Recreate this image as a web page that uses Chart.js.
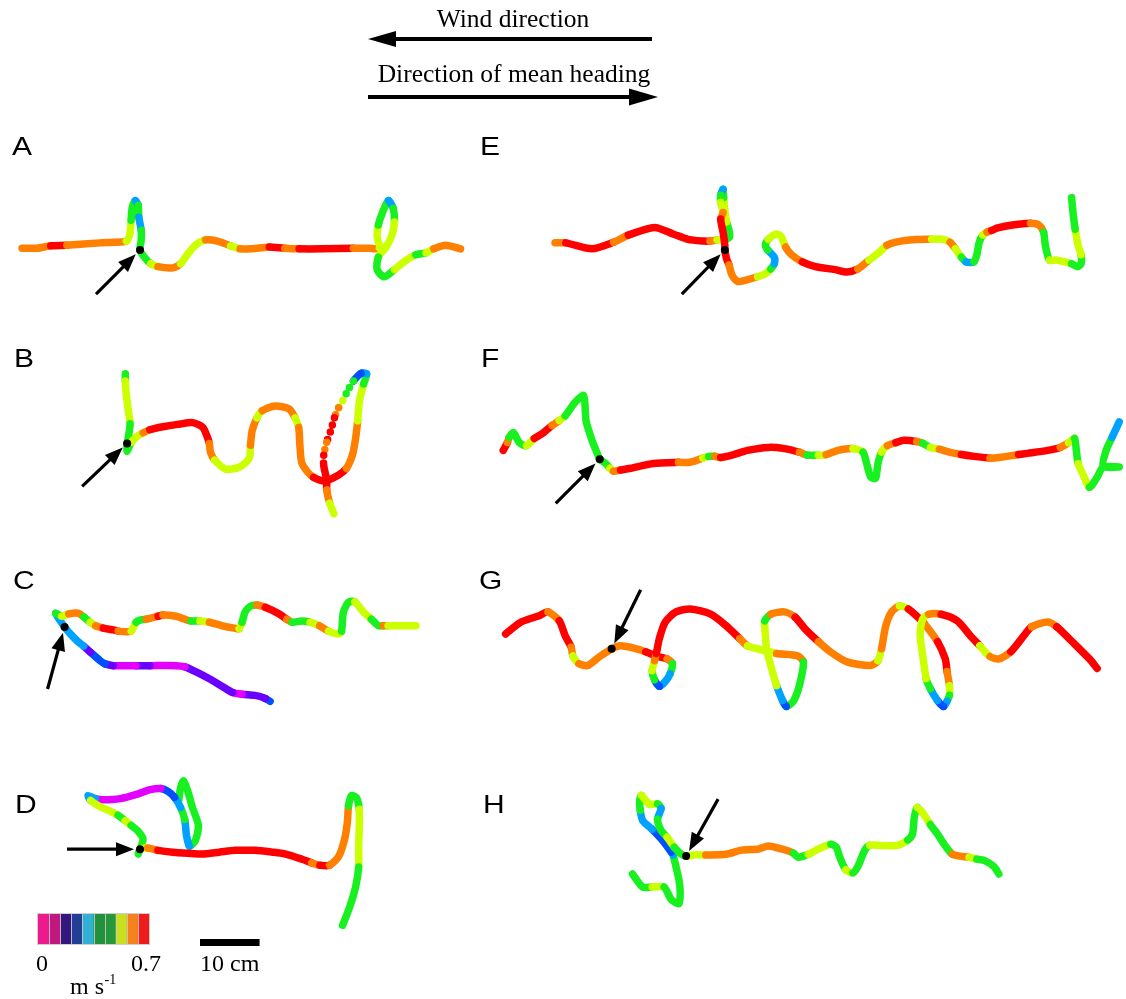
<!DOCTYPE html>
<html>
<head>
<meta charset="utf-8">
<title>Flight tracks</title>
<script src="https://cdn.jsdelivr.net/npm/chart.js@4.4.1/dist/chart.umd.min.js"></script>
<style>
  html, body { margin: 0; padding: 0; background: #ffffff; overflow: hidden; }
  #wrap { position: relative; width: 1126px; height: 999px; }
</style>
</head>
<body>
<div id="wrap"><canvas id="tracks"></canvas></div>
<script>
// Tracks: [x cm, y cm, ground speed m/s, dotted?] relative to the start point (black dot).
const trackA = [[-19.8,0.3,.6],[-17.3,0.3,.6],[-15,0.7,.66],[-12.3,0.8,.6],[-6.7,1.2,.6],[-4.5,1.3,.6],[-2.3,1.5,.53],[-1.7,2.7,.53],[-1.5,5,.45],[-1.3,7.2,.45],[-0.8,8.3,.32],[-0.3,7.5,.45],[-0.2,5.5,.32],[0.2,3.3,.45],[0.2,1.7,.45],[0,0,.45],[0.8,-1.3,.45],[1.8,-2.3,.53],[3,-2.8,.6],[5.5,-3,.6],[6.8,-2.3,.53],[8,-0.7,.53],[9.3,0.8,.53],[11,1.7,.6],[13,1.5,.6],[15.2,0.7,.53],[16.8,0.2,.6],[19.7,0.3,.6],[21.7,0.5,.66],[24.3,0.3,.6],[26.7,0.2,.66],[30.5,0.2,.66],[35.8,0.3,.6],[38.5,0.3,.6],[40.2,0.3,.53],[39.8,2.2,.53],[40,4.2,.45],[40.7,6.3,.45],[41.7,8.3,.32],[42.5,7,.45],[42.7,4.7,.53],[42.3,2.5,.53],[41.3,0.5,.53],[40,-1.2,.45],[39.8,-3.3,.45],[41,-4.5,.45],[42.7,-3.3,.53],[44.7,-1.7,.53],[46.3,-0.8,.45],[48,-0.5,.53],[49.3,0.2,.6],[51.3,0.8,.6],[53.8,0.2,.6]];

const trackB = [[-0.3,11.7,.45],[-0.3,10.5,.53],[-0.2,8.8,.53],[0.2,5.5,.53],[0.5,3.3,.45],[0.2,1,.45],[0,0,.45],[0,-1.3,.45],[0.7,0.2,.53],[1.8,1.3,.53],[2.7,1.8,.6],[3.8,2.3,.66],[6,2.8,.66],[8.5,3.2,.66],[11,3.5,.66],[12.7,2.7,.66],[13.5,1,.66],[13.8,0,.6],[14,-1.5,.6],[14.7,-2.8,.53],[16.5,-4.3,.53],[18.8,-4,.53],[20.5,-2.5,.53],[20.7,-0.3,.6],[21,2.2,.6],[21.8,4.3,.53],[22.7,5.5,.6],[24.8,6.3,.6],[27.2,5.8,.6],[28.2,4.3,.53],[28.8,2.7,.6],[29,-0.3,.6],[29.3,-3.2,.6],[30.3,-4.8,.6],[31.3,-5.7,.66],[33.2,-6.3,.66],[35.5,-5.3,.66],[36.8,-4.2,.6],[37.8,-2,.6],[38.3,0.5,.6],[38.7,3.8,.53],[39,7.2,.53],[39.7,10,.45],[40.2,11.7,.32],[39.3,11.8,.25],[38,10.5,.45,1],[37,8.8,.45,1],[36.2,7.2,.53,1],[35.5,6,.6,1],[34.8,4.3,.66,1],[34.2,2.2,.66,1],[33.5,0.2,.6,1],[33,-2,.66,1],[33,-3.7,.66],[33.5,-6.2,.66],[33.5,-7.8,.6],[34,-10,.53],[34.7,-11.8,.45]];

const trackC = [[34.5,-12.5,.25],[33.7,-12,.17],[32,-11.5,.17],[29.8,-11.3,.1],[28.2,-11,.17],[26.5,-10,.17],[24.3,-8.7,.17],[22,-7.5,.17],[20.2,-6.7,.1],[18.7,-6.5,.1],[14.3,-6.5,.17],[12,-6.5,.1],[8.2,-6.5,.17],[6.8,-6.2,.25],[6,-5.7,.25],[4.3,-4.2,.17],[3.2,-3.2,.32],[2.3,-2.5,.32],[1,-1.2,.32],[0,0,.32],[-0.7,1,.32],[-1.5,2.3,.45],[-0.5,1.8,.53],[0.7,2.2,.6],[2.3,2.3,.6],[3.2,1.7,.45],[4.3,0.8,.53],[5.2,0.2,.6],[6.5,-0.2,.66],[8.2,-0.5,.66],[9,-0.7,.6],[10.3,-0.8,.6],[11.2,-0.7,.53],[12,0.8,.45],[12.8,1.2,.45],[13.7,1.3,.6],[15.7,1.8,.66],[16.5,2,.6],[18.7,1.8,.6],[20.2,1.3,.6],[21.2,1,.45],[22.7,1,.53],[24.3,0.8,.6],[26.5,0.2,.6],[28.5,-0.2,.6],[29.3,-0.3,.53],[29.8,0.8,.45],[30.3,2.5,.45],[31.2,3.5,.45],[32.3,3.7,.6],[33.7,3.3,.66],[36,2.2,.66],[37.3,1.3,.6],[38.2,0.8,.45],[39.8,1,.45],[41.2,0.8,.53],[42.8,0.2,.6],[44.3,-0.7,.53],[46,-1.2,.53],[46.5,-0.7,.45],[46.8,2.5,.45],[47.7,4.2,.45],[48.7,4.2,.53],[50.2,2.5,.53],[51.5,1.3,.45],[52.7,0.2,.45],[53.5,0.2,.6],[54.3,0.2,.53],[59,0.2,.53]];

const trackD = [[6.5,8.2,.45],[6.8,10.3,.45],[7.3,11.5,.45],[8,9.8,.45],[8.8,7,.45],[9.8,4,.45],[9.3,1.5,.45],[8.3,0.5,.32],[7.8,2.3,.32],[7.5,5,.45],[6.8,7,.32],[5.8,8.7,.25],[4.7,9.7,.25],[3.5,10.2,.1],[1.7,10,.1],[-0.3,9.3,.1],[-3.3,8.5,.1],[-6.2,8.3,.1],[-7.5,8.5,.32],[-8.7,9,.32],[-8.3,8.2,.53],[-7,7.3,.53],[-5.3,6.5,.53],[-3.7,5.7,.45],[-2.5,4.8,.53],[-1.5,4,.45],[-0.5,3.2,.45],[0.5,1.7,.45],[-0.3,-0.8,.45],[0,0,.53],[1.3,0.2,.6],[3,-0.2,.66],[5.5,-0.5,.66],[10.5,-0.8,.66],[13.3,-0.5,.66],[16,-0.2,.66],[19.3,-0.2,.66],[22.2,-0.5,.66],[24.3,-0.8,.66],[27.2,-1.7,.66],[28.8,-2.3,.6],[30.2,-2.7,.66],[31.8,-2.7,.6],[33.3,-1.3,.6],[34.3,1.5,.6],[34.8,4.5,.6],[35,7.3,.45],[35.5,9,.45],[36.3,8.7,.45],[36.8,6.7,.53],[36.8,3.7,.53],[36.7,0.3,.53],[36.7,-3,.45],[36.2,-6.3,.45],[35.2,-9.7,.45],[34,-12.8,.45]];

const trackE = [[-28.5,1.2,.6],[-26.7,1.2,.66],[-22.3,0.2,.66],[-18.7,1.3,.6],[-16.2,2.5,.66],[-11.8,3.8,.66],[-8.7,2.7,.66],[-6.2,1.8,.66],[-3.5,1.5,.66],[-2.5,1.5,.6],[-1.3,1.7,.53],[0,1.8,.45],[0.8,2.2,.45],[0.7,3.3,.45],[0.3,4.7,.53],[0,6.7,.53],[-0.2,8.8,.45],[-0.3,10.2,.32],[-0.7,9.2,.45],[-0.7,8,.53],[-0.3,6.3,.6],[-0.7,5.2,.66],[-0.3,3,.66],[0,0.8,.66],[0,0,.66],[0.3,-1.5,.66],[0.7,-2.5,.6],[1.2,-4.2,.6],[2.2,-5.3,.6],[3.7,-5,.6],[5.5,-4.5,.53],[6.8,-4,.53],[7.7,-3.2,.45],[8.3,-2.3,.32],[8.3,-1.2,.32],[7.2,0,.45],[6.8,0.8,.45],[7.3,1.8,.53],[8.7,2.7,.53],[9.5,2.2,.53],[10.2,0.5,.6],[11.2,-0.8,.6],[13,-2,.66],[15.2,-2.8,.66],[18.5,-3.3,.66],[20.5,-3.7,.66],[22.3,-3.2,.6],[24.2,-1.7,.53],[26,-0.3,.53],[27.2,0.8,.6],[28.5,1.3,.6],[31,1.7,.6],[34.7,1.8,.53],[36.5,1.8,.53],[37.8,1.3,.6],[38.7,0.2,.53],[39.7,-1.2,.45],[40.5,-2,.32],[41.8,-2,.45],[42.3,-0.8,.45],[42.7,1.3,.45],[43.3,2.5,.53],[44,3,.6],[44.8,3.3,.66],[45.8,3.7,.66],[48.3,4.2,.66],[51.3,4.5,.6],[52.7,4.2,.6],[53.5,3,.45],[53.8,0.8,.45],[54.5,-1.7,.53],[55.7,-1.7,.53],[58.2,-2.3,.45],[59.2,-2.8,.45],[59.8,-2.3,.45],[59.8,-0.8,.53],[59.3,0.8,.53],[58.8,3.5,.45],[58.5,5.8,.45],[58.2,8.8,.45]];

const trackF = [[-16.2,1.5,.66],[-15.5,2.8,.6],[-15.2,3.7,.45],[-14.5,4.5,.45],[-13.5,2.8,.45],[-12.3,2.3,.53],[-11,3.5,.66],[-9.7,4.3,.66],[-8,5.7,.6],[-6.8,6.5,.53],[-5.8,7.3,.45],[-4.2,9.5,.45],[-2.7,10.7,.45],[-2.3,6.5,.45],[-1.3,3.2,.45],[-0.3,0.7,.45],[0,0,.45],[1,-0.7,.45],[1.7,-1.5,.53],[2.3,-2,.6],[3.5,-1.8,.66],[5.2,-1.5,.66],[9,-0.7,.66],[13.2,-0.5,.6],[15.2,-0.5,.6],[17.3,0.2,.53],[18.3,0.5,.45],[19.3,0.5,.6],[20.3,0.3,.66],[22.2,0.7,.66],[24.8,1.5,.66],[28.3,2,.66],[31,1.8,.66],[33.5,1.2,.6],[34.8,0.7,.45],[36.7,0.7,.53],[38,0.8,.6],[40,1.5,.6],[42.5,1.8,.53],[44.2,1.2,.45],[44.8,-0.7,.45],[45.5,-3,.45],[46.3,-3.2,.45],[46.7,-0.7,.45],[47.3,1.2,.53],[48.3,2.3,.6],[49.7,2.8,.66],[51,3.2,.66],[53.2,3,.6],[54.2,2.7,.45],[55.5,2,.53],[57,1.7,.6],[58.7,1.2,.6],[60.7,0.8,.66],[62.8,0.5,.66],[65.5,0.2,.6],[67,0.3,.6],[70.3,0.8,.66],[71.8,1,.66],[75.2,1.5,.66],[77.3,2,.6],[78.7,2.8,.53],[79.7,3.5,.45],[80,1.5,.45],[80.3,-0.7,.53],[81.2,-2.7,.53],[82.2,-4.7,.45],[83.5,-3,.45],[84.5,-1.3,.45],[87.2,-1.3,.45],[84.5,-1.2,.45],[85,1.5,.45],[86,3.7,.32],[87.2,6.3,.32]];

const trackG = [[-17.8,2.5,.66],[-15.2,4.5,.66],[-12.3,5.5,.66],[-10.7,6.2,.6],[-8.8,4.7,.66],[-7.8,2.2,.66],[-6.8,0.3,.6],[-6.5,-1.2,.53],[-5.5,-2.5,.6],[-4,-2.8,.6],[-2,-1.3,.6],[0,0,.6],[1.5,0.5,.6],[4.2,0,.6],[5.7,-0.5,.66],[7.7,-1.3,.66],[9.3,-1.7,.6],[10.2,-2.5,.45],[9.8,-4.2,.32],[9,-5.5,.32],[8,-6.3,.25],[7.2,-5.2,.45],[6.8,-3.7,.53],[7.2,-2,.6],[7.5,-0.8,.66],[8,1.7,.66],[9,4.5,.66],[10.8,6.2,.66],[13.2,6.7,.66],[16.7,5.8,.66],[19.3,3.8,.66],[21.5,1.7,.6],[22.8,0.5,.53],[25.7,-0.3,.53],[27.7,-0.8,.6],[31.2,-1.2,.6],[32.2,-2.2,.45],[31.5,-6.2,.45],[30.5,-8.8,.45],[29.3,-9.7,.25],[28.7,-8.7,.32],[27.7,-6.2,.53],[26.7,-2.8,.53],[26,0,.53],[25.7,3.8,.53],[25.7,4.7,.45],[26.7,5.8,.6],[29,6.2,.6],[30.8,5.3,.66],[32.5,3.3,.66],[34.7,1.2,.6],[36.7,-0.5,.6],[39.5,-2.2,.6],[43.5,-2.8,.6],[44.7,-2,.53],[45.3,0,.6],[46,3.8,.6],[47,6.2,.6],[48.3,7.2,.53],[49.8,6.7,.66],[51.2,5.5,.66],[52.5,4.2,.6],[54.7,1.2,.66],[56,-1.7,.66],[56.3,-3.8,.6],[56.7,-6.2,.53],[56.7,-7.8,.45],[56.3,-8.8,.32],[55.7,-9.7,.25],[54.7,-8.7,.32],[53.5,-6.7,.45],[52.8,-5,.53],[52.3,-1.7,.53],[51.8,2.2,.53],[52.2,5,.53],[53.2,5.8,.6],[55.3,5.8,.66],[58,4.7,.66],[60.2,2.2,.66],[61.8,0.5,.53],[63.5,-1.3,.6],[65,-1.7,.6],[67,-0.5,.66],[69.2,2.2,.66],[70.5,3.7,.6],[73.2,4.5,.6],[74.7,3.7,.66],[77.3,1.2,.66],[80.2,-1.7,.66],[81.5,-3.3,.53]];

const trackH = [[-9,-3,.45],[-7.3,-5.2,.45],[-5.7,-5.2,.53],[-3.7,-5.2,.45],[-2.5,-7.3,.45],[-1.2,-8,.45],[-1,-6,.45],[-1.2,-4,.45],[-1.7,-1.8,.45],[-2.2,0.2,.32],[-2.5,0.7,.25],[-4,2.7,.25],[-5.7,4.5,.32],[-7.3,6,.32],[-7.7,7.7,.45],[-7.8,9.3,.45],[-7.5,10.2,.53],[-6.2,8.7,.53],[-4.8,8.8,.45],[-4.2,8,.32],[-4.8,6.2,.45],[-4.2,4.3,.45],[-3.2,3.2,.53],[-2,1.5,.45],[-0.8,0.3,.45],[0,0,.53],[1.3,0.2,.53],[3.3,0.2,.6],[6.7,0.3,.6],[9.3,1,.6],[12.2,1.2,.6],[13.8,1.7,.6],[16,1.2,.6],[18,0.5,.45],[18.8,-0.2,.45],[20.5,0.3,.53],[22.2,1.2,.53],[24.3,2,.45],[25.2,1.5,.45],[25.8,-0.2,.45],[26.8,-2.3,.53],[28,-2.8,.45],[28.8,-1.8,.45],[30,1,.45],[30.8,1.8,.53],[32.7,1.8,.53],[35.5,1.8,.53],[37.2,2.7,.45],[38,3.7,.45],[38.3,6.5,.45],[38.8,8.2,.53],[39.7,7.3,.53],[41,5.3,.45],[42.2,3.7,.45],[43.3,2,.45],[44.7,0.3,.6],[46,0,.6],[47.5,-0.2,.53],[48.8,-0.5,.45],[50.2,-0.8,.45],[51.7,-1.8,.45],[52.5,-3,.45]];

// Speed key: 10 classes from 0 to 0.7 m/s
const SPEED_MIN = 0, SPEED_MAX = 0.7;
const trackColours = ['#ff0088','#e400ff','#6a00ff','#0050ff','#00a2ff','#00e060','#18f020','#ccff00','#ff7f00','#ff0000'];
const keyColours = ['#ec1a8c','#c0187f','#33177f','#223f95','#2fb0d4','#21913b','#26973a','#cbe01c','#f5821f','#f01b1c'];
const keyTickLabels = ['0', '0.7'];
const scaleBarCm = 10;

// Figure layout (page pixels)
const PAGE_W = 1126, PAGE_H = 999, PX_PER_CM = 6;
const panels = [
  { label: 'A', track: trackA, start: [137, 248], labelAt: [12, 155], arrowTail: [-44, 44] },
  { label: 'B', track: trackB, start: [124, 443], labelAt: [14, 367], arrowTail: [-45, 43] },
  { label: 'C', track: trackC, start: [61, 628],  labelAt: [13, 589], arrowTail: [-17, 62] },
  { label: 'D', track: trackD, start: [137, 852], labelAt: [15, 813], arrowTail: [-73, 0] },
  { label: 'E', track: trackE, start: [726, 248], labelAt: [480, 155], arrowTail: [-43, 44] },
  { label: 'F', track: trackF, start: [600, 459], labelAt: [481, 367], arrowTail: [-44, 44] },
  { label: 'G', track: trackG, start: [612, 650], labelAt: [479, 589], arrowTail: [29, -59] },
  { label: 'H', track: trackH, start: [687, 859], labelAt: [483, 813], arrowTail: [32, -57] }
];

function speedColour(v) {
  const n = trackColours.length;
  let k = Math.floor((v - SPEED_MIN) / (SPEED_MAX - SPEED_MIN) * n);
  k = Math.max(0, Math.min(n - 1, k));
  return trackColours[k];
}

function startCm(p) {
  return { x: p.start[0] / PX_PER_CM, y: (PAGE_H - p.start[1]) / PX_PER_CM };
}

const datasets = [];
// start points on top
datasets.push({
  type: 'scatter',
  data: panels.map(startCm),
  pointRadius: 4,
  pointBackgroundColor: '#000000',
  pointBorderWidth: 0,
  showLine: false,
  order: 0,
  clip: false
});
panels.forEach(p => {
  const o = startCm(p);
  const pts = p.track.map(t => ({ x: o.x + t[0], y: o.y + t[1], v: t[2], dotted: t[3] === 1 }));
  datasets.push({
    type: 'scatter',
    data: pts,
    showLine: true,
    borderWidth: 7.5,
    borderCapStyle: 'round',
    borderJoinStyle: 'round',
    tension: 0.25,
    pointRadius: 0,
    pointHitRadius: 0,
    order: 1,
    clip: false,
    borderColor: speedColour(pts[0].v),
    segment: {
      borderColor: c => speedColour(pts[c.p0DataIndex].v),
      borderDash: c => pts[c.p0DataIndex].dotted ? [0, 7.5] : undefined
    }
  });
});

function drawArrow(ctx, x0, y0, x1, y1, width, headLen, headHalf) {
  const dx = x1 - x0, dy = y1 - y0, L = Math.hypot(dx, dy);
  const ux = dx / L, uy = dy / L;
  const bx = x1 - ux * headLen, by = y1 - uy * headLen;
  ctx.save();
  ctx.strokeStyle = '#000'; ctx.fillStyle = '#000';
  ctx.lineWidth = width; ctx.lineCap = 'butt';
  ctx.beginPath(); ctx.moveTo(x0, y0); ctx.lineTo(bx + ux * 2, by + uy * 2); ctx.stroke();
  ctx.beginPath();
  ctx.moveTo(x1, y1);
  ctx.lineTo(bx - uy * headHalf, by + ux * headHalf);
  ctx.lineTo(bx + uy * headHalf, by - ux * headHalf);
  ctx.closePath(); ctx.fill();
  ctx.restore();
}

const figureDecor = {
  id: 'figureDecor',
  afterDatasetsDraw(chart) {
    const ctx = chart.ctx, xs = chart.scales.x, ys = chart.scales.y;
    const serif = "'Liberation Serif', 'Times New Roman', serif";
    const sans = "'Liberation Sans', Arial, sans-serif";

    // direction legend at top
    ctx.save();
    ctx.fillStyle = '#000';
    ctx.textAlign = 'center'; ctx.textBaseline = 'alphabetic';
    ctx.font = '25.5px ' + serif;
    ctx.fillText('Wind direction', 513, 27);
    ctx.fillText('Direction of mean heading', 514, 82);
    ctx.restore();
    drawArrow(ctx, 652, 39, 368, 39, 4, 28, 8);
    drawArrow(ctx, 368, 97, 658, 97, 4, 29, 8.5);

    // panels: letters and start arrows
    panels.forEach(p => {
      const o = startCm(p);
      const px = xs.getPixelForValue(o.x), py = ys.getPixelForValue(o.y);
      const tx = px + p.arrowTail[0], ty = py + p.arrowTail[1];
      const L = Math.hypot(p.arrowTail[0], p.arrowTail[1]);
      const gap = 6;
      drawArrow(ctx, tx, ty, px + p.arrowTail[0] / L * gap, py + p.arrowTail[1] / L * gap, 3.2, 18, 7);

      ctx.save();
      ctx.fillStyle = '#000';
      ctx.font = '25px ' + sans;
      ctx.textBaseline = 'alphabetic'; ctx.textAlign = 'left';
      ctx.translate(p.labelAt[0], p.labelAt[1]);
      ctx.scale(1.2, 1);
      ctx.fillText(p.label, 0, 0);
      ctx.restore();
    });

    // speed colour key
    const kx = 38, ky = 914, kw = 111, kh = 30;
    const bw = kw / keyColours.length;
    ctx.save();
    keyColours.forEach((c, i) => {
      ctx.fillStyle = c;
      ctx.fillRect(kx + i * bw, ky, bw + 0.5, kh);
    });
    ctx.strokeStyle = 'rgba(200,200,200,0.9)';
    ctx.lineWidth = 1;
    for (let i = 1; i < keyColours.length; i++) {
      ctx.beginPath(); ctx.moveTo(Math.round(kx + i * bw) + 0.5, ky); ctx.lineTo(Math.round(kx + i * bw) + 0.5, ky + kh); ctx.stroke();
    }
    ctx.strokeRect(kx - 0.5, ky - 0.5, kw + 1, kh + 1);
    ctx.fillStyle = '#000';
    ctx.font = '24px ' + serif;
    ctx.textAlign = 'center'; ctx.textBaseline = 'alphabetic';
    ctx.fillText(keyTickLabels[0], 42, 971);
    ctx.fillText(keyTickLabels[1], 146, 971);
    ctx.textAlign = 'left';
    ctx.fillText('m s', 70, 994);
    const msW = ctx.measureText('m s').width;
    ctx.font = '14px ' + serif;
    ctx.fillText('-1', 70 + msW + 0.5, 984);

    // scale bar, length taken from the x scale
    const sx0 = 200;
    const sx1 = xs.getPixelForValue(xs.getValueForPixel(sx0) + scaleBarCm);
    ctx.fillRect(sx0, 939, sx1 - sx0, 7);
    ctx.font = '24px ' + serif;
    ctx.textAlign = 'left';
    ctx.fillText(scaleBarCm + ' cm', 200, 971);
    ctx.restore();
  }
};

new Chart(document.getElementById('tracks'), {
  type: 'scatter',
  data: { datasets },
  options: {
    responsive: true,
    maintainAspectRatio: false,
    animation: false,
    events: [],
    layout: { padding: 0 },
    plugins: { legend: { display: false }, tooltip: { enabled: false } },
    scales: {
      x: { type: 'linear', display: false, min: 0, max: PAGE_W / PX_PER_CM },
      y: { type: 'linear', display: false, min: 0, max: PAGE_H / PX_PER_CM }
    }
  },
  plugins: [figureDecor]
});
</script>
</body>
</html>
